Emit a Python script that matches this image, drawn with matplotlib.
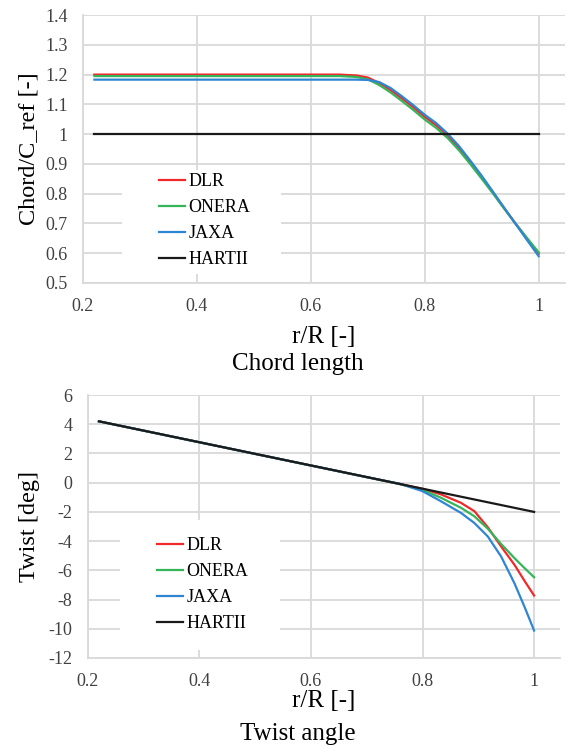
import numpy as np
import matplotlib
matplotlib.use('Agg')
import matplotlib.pyplot as plt
from matplotlib.patches import Rectangle

plt.rcParams['font.family'] = ['Liberation Serif', 'DejaVu Serif']
plt.rcParams['axes.unicode_minus'] = False

# Chord distribution
r_chord = [0.22, 0.3, 0.4, 0.5, 0.6, 0.65, 0.68, 0.70, 0.72, 0.74, 0.76, 0.78, 0.80,
           0.82, 0.84, 0.86, 0.88, 0.90, 0.92, 0.94, 0.96, 0.98, 1.0]
chord_dlr = [1.2, 1.2, 1.2, 1.2, 1.2, 1.2, 1.197, 1.19, 1.172, 1.148, 1.12, 1.09, 1.058,
             1.03, 0.995, 0.953, 0.905, 0.855, 0.803, 0.75, 0.698, 0.648, 0.598]
chord_onera = [1.195, 1.195, 1.195, 1.195, 1.195, 1.195, 1.192, 1.184, 1.165, 1.14, 1.111, 1.081, 1.049,
               1.021, 0.987, 0.946, 0.899, 0.85, 0.8, 0.748, 0.698, 0.65, 0.603]
chord_jaxa = [1.183, 1.183, 1.183, 1.183, 1.183, 1.183, 1.183, 1.182, 1.175, 1.155, 1.127, 1.097, 1.065,
              1.037, 1.002, 0.96, 0.911, 0.86, 0.806, 0.751, 0.697, 0.643, 0.59]
r_hart_chord = [0.22, 1.0]
chord_hart = [1.0, 1.0]

# Twist distribution
r_twist = [0.22, 0.5, 0.7, 0.76, 0.8, 0.833, 0.869, 0.893, 0.917, 0.941, 0.965, 0.983, 1.0]
twist_dlr = [4.2, 1.97, 0.38, -0.1, -0.42, -0.8, -1.38, -1.95, -3.05, -4.37, -5.63, -6.73, -7.72]
twist_onera = [4.2, 1.97, 0.38, -0.1, -0.5, -1.03, -1.72, -2.3, -3.15, -4.2, -5.17, -5.85, -6.47]
twist_jaxa = [4.2, 1.97, 0.38, -0.08, -0.58, -1.27, -2.07, -2.76, -3.68, -5.06, -6.9, -8.51, -10.12]
r_hart_twist = [0.22, 1.0]
twist_hart = [4.2, -2.0]

labels = ['DLR', 'ONERA', 'JAXA', 'HARTII']
colors = ['#f02a2a', '#35b55a', '#2e86d2', '#1a1a1a']

fig = plt.figure(figsize=(5.7, 7.52), dpi=100)
ax1 = fig.add_axes([0.1456, 0.6237, 0.8454, 0.3563])
ax2 = fig.add_axes([0.154, 0.125, 0.828, 0.3497])

def style(ax):
    ax.set_axisbelow(True)
    ax.grid(True, color='#d9d9d9', linewidth=1.3)
    for s in ['top', 'right']:
        ax.spines[s].set_visible(False)
    for s in ['left', 'bottom']:
        ax.spines[s].set_color('#d9d9d9')
        ax.spines[s].set_linewidth(1.3)
    ax.tick_params(length=0, labelsize=13, labelcolor='#404040')
    ax.tick_params(axis='y', pad=11)
    ax.tick_params(axis='x', pad=11)
    ax.set_xlim(0.2, 1.046)
    ax.set_xticks([0.2, 0.4, 0.6, 0.8, 1.0])
    ax.set_xticklabels(['0.2', '0.4', '0.6', '0.8', '1'])

leg_kw = dict(loc='upper left', frameon=False, fontsize=13, handlelength=1.45,
              handletextpad=0.2, labelspacing=0.5, borderpad=0, borderaxespad=0)

# Chord plot
style(ax1)
ax1.set_ylim(0.5, 1.4)
ax1.set_yticks(np.arange(0.5, 1.41, 0.1))
ax1.set_yticklabels(['0.5', '0.6', '0.7', '0.8', '0.9', '1', '1.1', '1.2', '1.3', '1.4'])
series1 = [(r_chord, chord_dlr), (r_chord, chord_onera), (r_chord, chord_jaxa), (r_hart_chord, chord_hart)]
for (x, y), lab, c in zip(series1, labels, colors):
    ax1.plot(x, y, color=c, linewidth=1.6, label=lab)
ax1.add_patch(Rectangle((0.081, 0.035), 0.33, 0.385, transform=ax1.transAxes,
                        facecolor='white', edgecolor='none', zorder=1))
ax1.legend(bbox_to_anchor=(0.157, 0.41), **leg_kw)
ax1.set_xlabel('r/R [-]', fontsize=18, labelpad=8)
ax1.set_ylabel('Chord/C_ref [-]', fontsize=17.5, labelpad=4)

# Twist plot
style(ax2)
ax2.set_ylim(-12, 6)
ax2.set_yticks(np.arange(-12, 7, 2))
series2 = [(r_twist, twist_dlr), (r_twist, twist_onera), (r_twist, twist_jaxa), (r_hart_twist, twist_hart)]
for (x, y), lab, c in zip(series2, labels, colors):
    ax2.plot(x, y, color=c, linewidth=1.6, label=lab)
ax2.add_patch(Rectangle((0.068, 0.03), 0.34, 0.495, transform=ax2.transAxes,
                        facecolor='white', edgecolor='none', zorder=1))
ax2.legend(bbox_to_anchor=(0.146, 0.46), **leg_kw)
ax2.set_xlabel('r/R [-]', fontsize=18, labelpad=0)
ax2.set_ylabel('Twist [deg]', fontsize=17.5, labelpad=6)

fig.text(0.522, 1 - 364 / 752, 'Chord length', fontsize=18, ha='center', va='center')
fig.text(0.522, 1 - 734 / 752, 'Twist angle', fontsize=18, ha='center', va='center')

fig.savefig('out.png', dpi=100)
